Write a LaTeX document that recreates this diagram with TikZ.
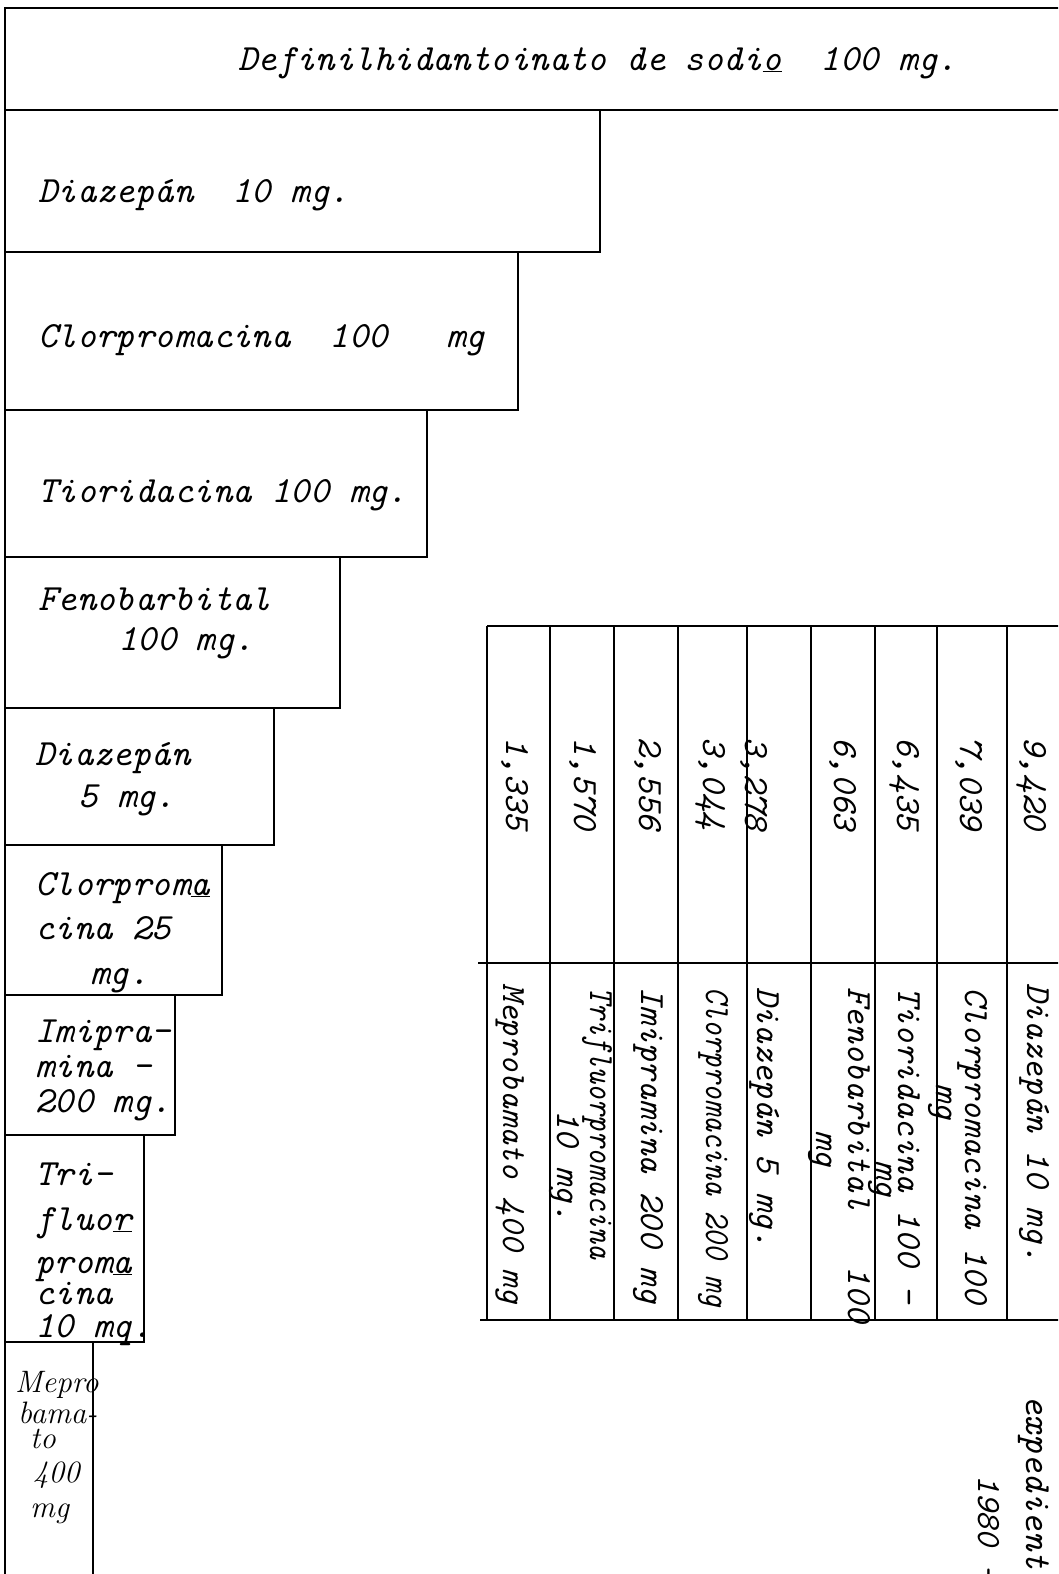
\documentclass[tikz,border=0pt]{standalone}
\usepackage{fontspec}
\usepackage{tikz}

\tikzset{
  box/.style={line width=1.6pt},
  rule/.style={line width=1.2pt},
  typed/.style={font=\fontsize{37}{44}\selectfont\ttfamily\itshape, inner sep=0pt, anchor=base west},
  cell/.style={font=\fontsize{35.5}{42}\selectfont\ttfamily\itshape, inner sep=0pt, anchor=base west, rotate=-90},
  smallcell/.style={cell, font=\fontsize{34}{40}\selectfont\ttfamily\itshape},
  hand/.style={font=\fontsize{31}{36}\selectfont\rmfamily\itshape, inner sep=0pt, anchor=base west}
}

\begin{document}
\begin{tikzpicture}[x=1pt, y=-1pt]
            \useasboundingbox (0,0) rectangle (1058,1574);
            \clip (0,0) rectangle (1058,1574);
            \fill[white] (0,0) rectangle (1058,1574);

            \draw[box] (5,8) rectangle (1075,110);
            \draw[box] (5,110) rectangle (600,252);
            \draw[box] (5,252) rectangle (518,410);
            \draw[box] (5,410) rectangle (427,557);
            \draw[box] (5,557) rectangle (340,708);
            \draw[box] (5,708) rectangle (274,845);
            \draw[box] (5,845) rectangle (222,995);
            \draw[box] (5,995) rectangle (175,1135);
            \draw[box] (5,1135) rectangle (144,1342);
            \draw[box] (5,1342) rectangle (93,1600);

            \node[typed] (defin) at (238,70) {Definilhidantoinato de sodi\underline{o}\ \ 100 mg.};
            \node[typed] (diaz10) at (38,202) {Diazepán\ \ 10 mg.};
            \node[typed] (clor100) at (38,347) {Clorpromacina\ \ 100\ \ \ mg};
            \node[typed] (tior) at (38,502) {Tioridacina 100 mg.};
            \node[typed] (feno) at (38,610) {Fenobarbital};
            \node[typed] (fenomg) at (118,650) {100 mg.};
            \node[typed] (diaz5) at (35,765) {Diazepán};
            \node[typed] (diaz5mg) at (78,807) {5 mg.};
            \node[typed] (clor25) at (35,895) {Clorprom\underline{a}};
            \node[typed] (clor25b) at (35,939) {cina 25};
            \node[typed] (clor25mg) at (90,984) {mg.};
            \node[typed] (imip) at (35,1042) {Imipra-};
            \node[typed] (imipb) at (35,1077) {mina -};
            \node[typed] (imipmg) at (35,1112) {200 mg.};
            \node[typed] (trif) at (35,1185) {Tri-};
            \node[typed] (trifb) at (35,1230) {fluo\underline{r}};
            \node[typed] (trifc) at (35,1273) {prom\underline{a}};
            \node[typed] (trifd) at (35,1304) {cina};
            \node[typed] (trifmg) at (35,1337) {10 mq.};
            \node[hand] (mepa) at (15,1392) {Mepro};
            \node[hand] (mepb) at (18,1423) {bama-};
            \node[hand] (mepc) at (30,1448) {to};
            \node[hand] (mepd) at (33,1482) {400};
            \node[hand] (mepe) at (30,1517) {mg};

            \draw[box] (487,626) -- (1075,626);
            \draw[box] (487,626) -- (487,1320);
            \draw[box] (478,963) -- (1075,963);
            \draw[box] (480,1320) -- (1075,1320);
            \draw[rule] (550,626) -- (550,1320);
            \draw[rule] (614,626) -- (614,1320);
            \draw[rule] (678,626) -- (678,1320);
            \draw[rule] (747,626) -- (747,1320);
            \draw[rule] (811,626) -- (811,1320);
            \draw[rule] (875,626) -- (875,1320);
            \draw[rule] (937,626) -- (937,1320);
            \draw[rule] (1007,626) -- (1007,1320);

            \node[cell] (v1) at (506,737) {1,335};
            \node[cell] (v2) at (574,737) {1,570};
            \node[cell] (v3) at (639,737) {2,556};
            \node[cell] (v4) at (703,737) {3,044};
            \node[cell] (v5) at (745,737) {3,278};
            \node[cell] (v6) at (834,737) {6,063};
            \node[cell] (v7) at (897,737) {6,435};
            \node[cell] (v8) at (960,737) {7,039};
            \node[cell] (v9) at (1024,737) {9,420};

            \node[smallcell] (d1) at (503,983) {Meprobamato 400 mg};
            \node[cell] (d2) at (590,987) {\scalebox{0.86}[1]{Trifluorpromacina}};
            \node[cell] (d2mg) at (557,1110) {10 mg.};
            \node[cell] (d3) at (641,987) {Imipramina 200 mg};
            \node[cell] (d4) at (706,987) {\scalebox{0.86}[1]{Clorpromacina 200 mg}};
            \node[cell] (d5) at (757,987) {Diazepán 5 mg.};
            \node[cell] (d6) at (848,987) {Fenobarbital\ \ \ 100};
            \node[cell] (d6mg) at (816,1130) {mg};
            \node[cell] (d7) at (898,987) {Tioridacina 100 -};
            \node[cell] (d7mg) at (876,1160) {mg};
            \node[cell] (d8) at (965,987) {Clorpromacina 100};
            \node[cell] (d8mg) at (936,1083) {mg};
            \node[cell] (d9) at (1027,983) {Diazepán 10 mg.};

            \node[typed, rotate=-90] (exped) at (1026,1395) {expediente};
            \node[smallcell] (year) at (978,1475) {1980 -};
\end{tikzpicture}
\end{document}
